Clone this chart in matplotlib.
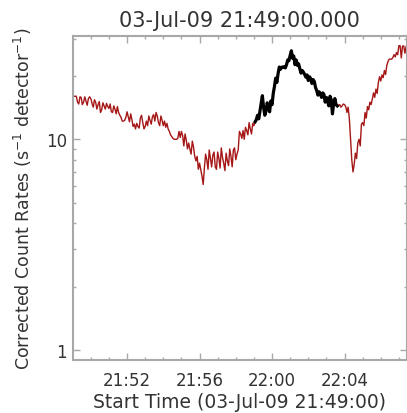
import numpy as np
import matplotlib
matplotlib.use("Agg")
import matplotlib.pyplot as plt
from matplotlib.ticker import FixedLocator, NullFormatter, FixedFormatter

# ---- data (4-s bins starting 03-Jul-09 21:49:00) ----
cadence_s = 4
count_rates = [
    16.0, 16.0, 16.0, 16.0, 15.0, 14.7, 15.9, 15.8, 14.6, 15.0, 15.9, 15.2, 14.5, 15.6, 15.9,
    15.6, 14.8, 14.2, 15.4, 15.0, 13.9, 14.6, 15.1, 13.4, 13.8, 14.9, 14.4, 13.9, 14.8, 14.3,
    14.0, 14.7, 13.5, 13.4, 14.4, 13.9, 13.2, 14.3, 13.4, 13.0, 12.7, 12.2, 12.2, 12.3, 12.7,
    13.5, 12.8, 12.1, 13.2, 12.4, 11.5, 11.8, 11.2, 11.9, 11.5, 11.3, 12.6, 13.0, 12.0, 11.2,
    11.5, 12.2, 11.6, 12.9, 12.3, 11.8, 12.8, 13.1, 12.2, 13.4, 12.9, 12.0, 11.6, 12.9, 12.3,
    11.6, 12.2, 11.4, 11.9, 11.2, 10.9, 10.5, 10.3, 10.1, 10.0, 10.0, 10.0, 10.1, 10.9, 10.2,
    10.9, 10.4, 9.3, 10.6, 9.9, 9.0, 9.6, 9.0, 8.5, 9.8, 9.2, 8.3, 7.9, 8.3, 7.2,
    7.7, 7.2, 6.7, 6.1, 7.3, 8.5, 8.0, 7.2, 8.9, 8.1, 7.4, 8.4, 8.7, 7.4, 7.2,
    8.7, 8.1, 7.3, 9.1, 8.2, 7.7, 7.1, 8.6, 7.9, 7.5, 9.0, 8.3, 7.4, 8.9, 9.1,
    8.0, 8.5, 8.9, 10.9, 10.6, 10.1, 11.0, 10.0, 11.4, 11.0, 10.5, 12.0, 11.2, 10.6, 11.9,
    11.6, 12.1, 12.4, 13.0, 12.5, 13.6, 14.8, 16.1, 14.2, 13.0, 13.6, 14.9, 14.2, 13.5, 15.2,
    14.6, 16.5, 17.8, 19.5, 18.6, 20.5, 22.0, 21.5, 22.0, 22.0, 22.1, 21.8, 22.6, 23.8, 23.6,
    25.0, 26.3, 24.2, 24.8, 22.6, 23.8, 22.4, 22.8, 21.6, 20.6, 21.2, 20.8, 20.3, 19.7, 20.2,
    19.0, 19.8, 19.4, 18.4, 19.2, 18.8, 17.6, 17.0, 16.2, 16.8, 16.4, 15.8, 16.6, 16.3, 15.0,
    15.8, 15.2, 14.4, 16.0, 15.4, 13.2, 14.8, 15.6, 14.6, 14.4, 14.5, 14.6, 14.2, 14.4, 14.7,
    14.6, 14.3, 13.4, 14.2, 12.5, 10.0, 8.0, 7.0, 7.6, 8.6, 8.1, 9.6, 10.0, 9.3, 11.8,
    12.0, 11.6, 13.4, 12.6, 14.3, 13.8, 15.0, 14.6, 15.5, 16.6, 15.8, 17.3, 16.5, 18.6, 19.8,
    18.9, 20.2, 19.6, 21.2, 20.3, 22.4, 23.4, 24.0, 24.0, 24.0, 24.4, 25.2, 24.6, 25.8, 25.2,
    27.8, 27.8, 24.3, 27.7, 27.7, 25.6, 27.6,
]
highlight_s = [604, 876]          # interval drawn in black (s after start)
xlim_min = [0.0, 18.42]           # minutes after 21:49:00
ylim = [0.9, 30.8]
xtick_min = [3, 7, 11, 15]
xtick_labels = ["21:52", "21:56", "22:00", "22:04"]
ytick_vals = [1, 10]
ytick_labels = ["1", "10"]
title = "03-Jul-09 21:49:00.000"
xlabel = "Start Time (03-Jul-09 21:49:00)"
ylabel = "Corrected Count Rates (s$^{-1}$ detector$^{-1}$)"

rates = np.array(count_rates)
t_min = np.arange(len(rates)) * cadence_s / 60.0
mask = (t_min * 60 >= highlight_s[0]) & (t_min * 60 <= highlight_s[1])

W, H = 407, 414
fig = plt.figure(figsize=(W / 100, H / 100), dpi=100)
ax = fig.add_axes([72.7 / W, (H - 360.7) / H, (406.5 - 72.7) / W, (360.7 - 37.3) / H])

ax.plot(t_min, rates, color="#a51616", lw=1.0)
ax.plot(t_min[mask], rates[mask], color="black", lw=2.3)

ax.set_yscale("log")
ax.set_xlim(*xlim_min)
ax.set_ylim(*ylim)

ax.xaxis.set_major_locator(FixedLocator(xtick_min))
ax.xaxis.set_major_formatter(FixedFormatter(xtick_labels))
ax.xaxis.set_minor_locator(FixedLocator(np.arange(1, 19)))
ax.yaxis.set_major_locator(FixedLocator(ytick_vals))
ax.yaxis.set_major_formatter(FixedFormatter(ytick_labels))
ax.yaxis.set_minor_locator(FixedLocator([2, 3, 4, 5, 6, 7, 8, 9, 20, 30]))
ax.yaxis.set_minor_formatter(NullFormatter())

spine_c = "#a8a8a8"
txt_c = "#333333"
for s in ax.spines.values():
    s.set_color(spine_c)
    s.set_linewidth(1.5)
ax.tick_params(which="both", direction="in", top=True, right=True, color=spine_c,
               width=1.0, labelcolor=txt_c)
ax.tick_params(which="major", length=5)
ax.tick_params(which="minor", length=2.5)
ax.tick_params(axis="x", which="major", labelsize=12, pad=8)
ax.tick_params(axis="y", which="major", labelsize=12, pad=4)

ax.set_title(title, fontsize=15, color=txt_c, pad=7.6)
ax.set_xlabel(xlabel, fontsize=13.5, color=txt_c, labelpad=2)
ax.set_ylabel(ylabel, fontsize=12.5, color=txt_c)
ax.yaxis.label.set_va("center")
ax.yaxis.set_label_coords((23 - 72.7) / (406.5 - 72.7), 0.5)

fig.savefig("out.png", dpi=100)
